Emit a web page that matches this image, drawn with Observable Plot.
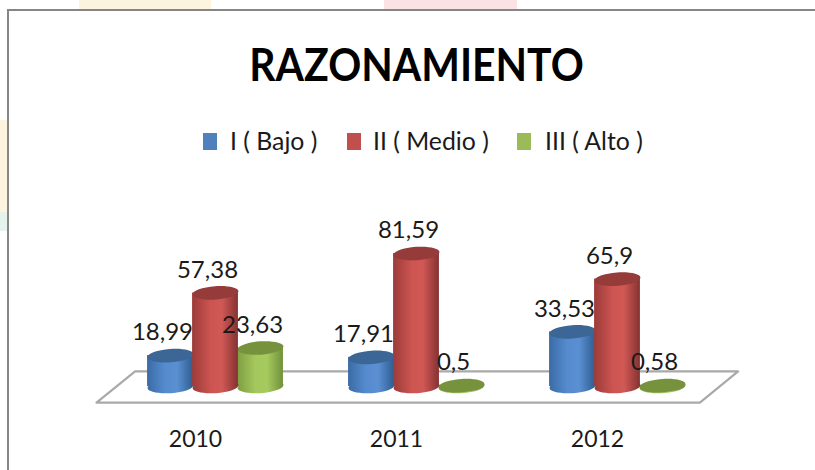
<!DOCTYPE html>
<html><head><meta charset="utf-8">
<script src="https://cdn.jsdelivr.net/npm/d3@7"></script>
<script src="https://cdn.jsdelivr.net/npm/@observablehq/plot@0.6"></script>
<style>
html,body{margin:0;padding:0;background:#fff;overflow:hidden}
#page{position:relative;width:815px;height:470px;font-family:Lato,sans-serif;color:#1a1a1a;overflow:hidden}
.patch{position:absolute}
#frame{position:absolute;left:7px;top:9px;right:-5px;bottom:-5px;border-left:2.5px solid #868686;border-top:2.5px solid #868686;background:#fff}
#title{position:absolute;left:0;width:833px;top:36px;text-align:center;font-size:46px;font-weight:700;color:#000;line-height:56px;white-space:nowrap;transform:scaleX(0.89)}
.sw{position:absolute;top:133px;width:14px;height:17px}
.lg{position:absolute;top:126px;font-size:24.8px;line-height:30px;white-space:nowrap}
#chart{position:absolute;left:0;top:170px}
#chart svg{display:block;background:transparent}
</style></head><body>
<div id="page">
<div class="patch" style="left:79px;top:0;width:132px;height:10px;background:#fdf4e0"></div>
<div class="patch" style="left:384px;top:0;width:133px;height:10px;background:#fbe3e3"></div>
<div class="patch" style="left:0;top:120px;width:7px;height:92px;background:#fdf4e0"></div>
<div class="patch" style="left:0;top:212px;width:7px;height:19px;background:#e6f3ec"></div>
<div id="frame"></div>
<div id="title">RAZONAMIENTO</div>
<div id="legend"></div>
<div id="chart"></div>
</div>
<script>
const years = [2010, 2011, 2012];
const seriesNames = ["I ( Bajo )", "II ( Medio )", "III ( Alto )"];
const bajo = [18.99, 17.91, 33.53];
const medio = [57.38, 81.59, 65.9];
const alto = [23.63, 0.5, 0.58];
const colors = ["#4f81bd", "#c0504d", "#9bbb59"];
const tops = ["#3c6696", "#953b39", "#76923c"];

const legendX = [[203, 230], [347, 373], [517, 545]];
const legend = document.getElementById("legend");
seriesNames.forEach((n, i) => {
  const s = document.createElement("div");
  s.className = "sw"; s.style.left = legendX[i][0] + "px"; s.style.background = colors[i];
  legend.appendChild(s);
  const t = document.createElement("div");
  t.className = "lg"; t.style.left = legendX[i][1] + "px"; t.textContent = n;
  legend.appendChild(t);
});

const slot = 0.224, half = 0.114;
const rows = [bajo, medio, alto].map((vals, s) =>
  years.map((year, i) => ({year, value: vals[i], s, cx: year + (s - 1) * slot}))
);
const floor = [
  {x: 2009.408, y: -9.9}, {x: 2012.41, y: -9.9}, {x: 2012.6, y: 9.3}, {x: 2009.6, y: 9.3}, {x: 2009.408, y: -9.9}
];
const ellipse = {
  draw(ctx, size) {
    const rx = Math.sqrt(size / Math.PI), ry = rx * 0.29, k = 0.5523, a = -4 * Math.PI / 180;
    const P = (x, y) => [x * Math.cos(a) - y * Math.sin(a), x * Math.sin(a) + y * Math.cos(a)];
    ctx.moveTo(...P(rx, 0));
    ctx.bezierCurveTo(...P(rx, k * ry), ...P(k * rx, ry), ...P(0, ry));
    ctx.bezierCurveTo(...P(-k * rx, ry), ...P(-rx, k * ry), ...P(-rx, 0));
    ctx.bezierCurveTo(...P(-rx, -k * ry), ...P(-k * rx, -ry), ...P(0, -ry));
    ctx.bezierCurveTo(...P(k * rx, -ry), ...P(rx, -k * ry), ...P(rx, 0));
    ctx.closePath();
  }
};
const gradients = () => {
  const svgNS = "http://www.w3.org/2000/svg";
  const g = document.createElementNS(svgNS, "defs");
  const stops = [
    ["#3a6ba6", "#568ccf", "#5a90d2", "#2f5d92"],
    ["#9c3b39", "#cc5451", "#d05855", "#843231"],
    ["#7f9e42", "#a4c85d", "#a6ca5e", "#71903a"]
  ];
  stops.forEach((st, i) => {
    const lg = document.createElementNS(svgNS, "linearGradient");
    lg.setAttribute("id", "cyl" + i);
    [0, 0.4, 0.65, 1].forEach((o, j) => {
      const e = document.createElementNS(svgNS, "stop");
      e.setAttribute("offset", o); e.setAttribute("stop-color", st[j]);
      lg.appendChild(e);
    });
    g.appendChild(lg);
  });
  return g;
};
const cylinder = s => [
  Plot.dot(rows[s], {x: "cx", y: () => 0, r: 23, symbol: ellipse, fill: `url(#cyl${s})`, stroke: "none"}),
  Plot.rectY(rows[s], {x1: d => d.cx - half, x2: d => d.cx + half, y1: () => 0, y2: "value", fill: `url(#cyl${s})`, inset: 0}),
  Plot.dot(rows[s], {x: "cx", y: "value", r: 23, symbol: ellipse, fill: tops[s], stroke: "none"})
];
const chart = Plot.plot({
  width: 815, height: 300, margin: 0, marginBottom: 45,
  style: {background: "transparent", fontFamily: "Lato, sans-serif"},
  x: {type: "linear", domain: [2010, 2012], range: [215, 617]},
  y: {domain: [0, 100], range: [216, 53], axis: null},
  marks: [
    gradients,
    Plot.line(floor, {x: "x", y: "y", stroke: "#a9a9a9", strokeWidth: 2.2, fill: "#fff"}),
    ...cylinder(0), ...cylinder(2), ...cylinder(1),
    Plot.axisX({ticks: years, tickSize: 0, tickPadding: 5, dx: -20, tickFormat: d => String(d), fontSize: 23, fill: "#1a1a1a", label: null}),
    Plot.text(rows.flat(), {x: "cx", y: "value", text: d => String(d.value).replace(".", ","), dx: -8, dy: -23, fontSize: 24, fill: "#1a1a1a"})
  ]
});
document.getElementById("chart").appendChild(chart);
</script>
</body></html>
